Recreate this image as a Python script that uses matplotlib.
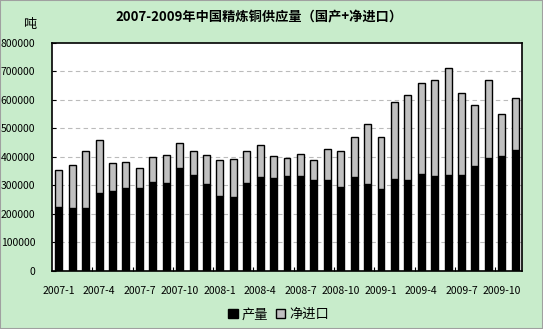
import matplotlib.pyplot as plt
import numpy as np
from matplotlib.patches import Rectangle

plt.rcParams['font.family'] = ['Noto Sans CJK SC', 'DejaVu Sans']

# Months 2007-1 .. 2009-11
months = ['%d-%d' % (y, m) for y in (2007, 2008, 2009) for m in range(1, 13)][:35]

# (tonnes)
production = [222000, 219000, 219000, 273000, 280000, 289000, 289000, 311000, 308000,
              360000, 336000, 304000, 262000, 259000, 307000, 330000, 325000, 332000,
              331000, 319000, 318000, 294000, 329000, 304000, 287000, 322000, 319000,
              339000, 332000, 336000, 336000, 367000, 395000, 401000, 422000]
total = [353000, 371000, 419000, 458000, 377000, 380000, 359000, 398000, 406000,
         447000, 419000, 406000, 387000, 393000, 419000, 440000, 401000, 394000,
         408000, 387000, 426000, 419000, 470000, 514000, 468000, 591000, 615000,
         658000, 668000, 710000, 622000, 580000, 668000, 549000, 605000]
net_import = [t - p for t, p in zip(total, production)]

bg = '#C8ECCB'
fig = plt.figure(figsize=(5.43, 3.29), dpi=100, facecolor=bg)
ax = fig.add_axes([0.0958, 0.1772, 0.8655, 0.693])

x = np.arange(len(months))
w = 0.52
ax.bar(x, production, w, color='black', edgecolor='black', linewidth=1, label='产量', zorder=3)
ax.bar(x, net_import, w, bottom=production, color='#C0C0C0', edgecolor='black',
       linewidth=1, label='净进口', zorder=3)

ax.set_xlim(-0.5, len(months) - 0.5)
ax.set_ylim(0, 800000)
ax.set_yticks(np.arange(0, 800001, 100000))
ax.set_yticklabels([str(v) for v in range(0, 800001, 100000)], fontsize=7.5)
for v in range(100000, 800000, 100000):
    ax.axhline(v, color='#BBBBBB', linestyle=(0, (4, 3)), linewidth=0.8, zorder=1)

ax.set_xticks(x[::3])
ax.set_xticklabels(months[::3], fontsize=7.5)
ax.set_xticks(np.arange(2.5, len(months) - 1, 3), minor=True)
ax.tick_params(axis='x', which='major', length=0, pad=11)
ax.tick_params(axis='x', which='minor', direction='in', length=3, width=0.8)
ax.tick_params(axis='y', direction='in', length=3, width=0.8, pad=12)
for s in ax.spines.values():
    s.set_linewidth(1.2)

fig.text(0.477, 0.947, '2007-2009年中国精炼铜供应量（国产+净进口）', ha='center', va='center',
         fontsize=9.5, fontweight='bold')
fig.text(0.054, 0.925, '吨', ha='center', va='center', fontsize=9.5)

fig.legend(loc='center', bbox_to_anchor=(0.513, 0.043), ncol=2, frameon=False, fontsize=9.5,
           handlelength=0.7, handleheight=0.7, handletextpad=0.3, columnspacing=0.6)

fig.patches.append(Rectangle((0, 0), 1, 1, transform=fig.transFigure, fill=False,
                             edgecolor='#A0A0A0', linewidth=1.5))

fig.savefig('out.png', dpi=100, facecolor=bg)
